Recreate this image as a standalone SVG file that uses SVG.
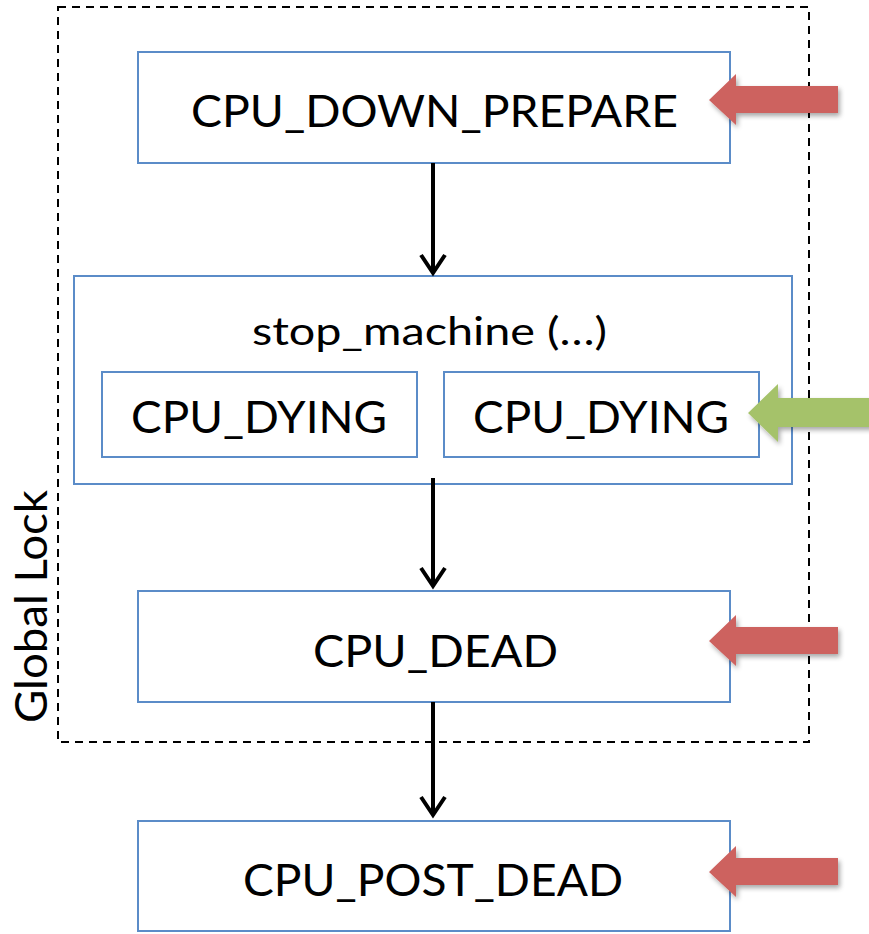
<svg xmlns="http://www.w3.org/2000/svg" width="869" height="934" viewBox="0 0 869 934">
  <style>
    .box { fill: #ffffff; stroke: #5b8cc8; stroke-width: 2; }
    .lbl { font-family: Lato, "Open Sans", sans-serif; font-size: 44px; fill: #000; text-anchor: middle; }
    .conn { stroke: #000; stroke-width: 4; fill: none; }
    .red { fill: #cd625f; }
    .green { fill: #a5c26a; }
  </style>
  <defs>
    <!-- open chevron head; drawn along +x so orient="auto" follows the line -->
    <marker id="head" viewBox="0 0 24 30" refX="20" refY="15" markerWidth="24" markerHeight="30" markerUnits="userSpaceOnUse" orient="auto" overflow="visible">
      <path d="M2,3 L20,15 L2,27" fill="none" stroke="#000" stroke-width="4" stroke-linejoin="miter"/>
    </marker>
    <filter id="shadow" x="-20%" y="-30%" width="150%" height="170%">
      <feGaussianBlur in="SourceAlpha" stdDeviation="2.5"/>
      <feOffset dx="2" dy="3" result="b"/>
      <feComponentTransfer><feFuncA type="linear" slope="0.35"/></feComponentTransfer>
      <feMerge><feMergeNode/><feMergeNode in="SourceGraphic"/></feMerge>
    </filter>
    <path id="leftArrow" d="M0,0 L27,-26 L27,-14 L129,-14 L129,13 L27,13 L27,25 Z"/>
  </defs>

  <!-- global lock region -->
  <g id="global-lock">
    <rect x="58" y="7" width="751" height="735" fill="none" stroke="#000" stroke-width="2" stroke-dasharray="8,6"/>
    <text class="lbl" x="0" y="0" textLength="233" lengthAdjust="spacingAndGlyphs" transform="translate(47,606.5) rotate(-90)">Global Lock</text>
  </g>

  <g id="cpu-down-prepare">
    <rect class="box" x="138" y="52" width="592" height="111"/>
    <text class="lbl" x="434.5" y="127" textLength="487" lengthAdjust="spacingAndGlyphs">CPU_DOWN_PREPARE</text>
  </g>

  <g id="stop-machine">
    <rect class="box" x="74" y="276" width="718" height="208"/>
    <text class="lbl" x="429.5" y="345" textLength="355" lengthAdjust="spacingAndGlyphs" style="font-size:39px">stop_machine (…)</text>
  </g>

  <g id="cpu-dying-1">
    <rect class="box" x="102" y="372" width="315" height="85"/>
    <text class="lbl" x="259" y="433" textLength="256" lengthAdjust="spacingAndGlyphs">CPU_DYING</text>
  </g>

  <g id="cpu-dying-2">
    <rect class="box" x="444" y="372" width="315" height="85"/>
    <text class="lbl" x="601" y="433" textLength="256" lengthAdjust="spacingAndGlyphs">CPU_DYING</text>
  </g>

  <g id="cpu-dead">
    <rect class="box" x="138" y="591" width="592" height="111"/>
    <text class="lbl" x="435.5" y="667" textLength="245" lengthAdjust="spacingAndGlyphs">CPU_DEAD</text>
  </g>

  <g id="cpu-post-dead">
    <rect class="box" x="138" y="821" width="592" height="110"/>
    <text class="lbl" x="433" y="896" textLength="380" lengthAdjust="spacingAndGlyphs">CPU_POST_DEAD</text>
  </g>

  <!-- flow connectors -->
  <g id="connectors">
    <line class="conn" x1="433" y1="163" x2="433" y2="273" marker-end="url(#head)"/>
    <line class="conn" x1="433" y1="478" x2="433" y2="586" marker-end="url(#head)"/>
    <line class="conn" x1="433" y1="702" x2="433" y2="815" marker-end="url(#head)"/>
  </g>

  <!-- callback entry markers -->
  <g id="markers" filter="url(#shadow)">
    <use href="#leftArrow" class="red" x="709" y="100"/>
    <use href="#leftArrow" class="red" x="709" y="641"/>
    <use href="#leftArrow" class="red" x="709" y="872"/>
    <path class="green" d="M748,413 L778,384 L778,398 L875,398 L875,427 L778,427 L778,442 Z"/>
  </g>
</svg>
